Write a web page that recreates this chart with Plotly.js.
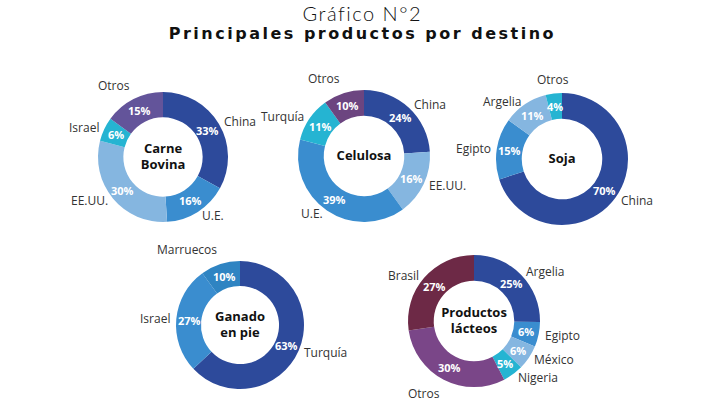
<!DOCTYPE html>
<html>
<head>
<meta charset="utf-8">
<script src="https://cdn.plot.ly/plotly-3.0.1.min.js"></script>
<style>
  html, body { margin: 0; padding: 0; background: #fff; }
  #myDiv { width: 704px; height: 418px; }
  g.annotation[data-index="0"] text { letter-spacing: 1.5px; }
  g.annotation[data-index="1"] text { letter-spacing: 2.5px; }
</style>
</head>
<body>
<div id="myDiv"></div>
<script>
  // data (% por destino)
  var carne_labels = ['China', 'U.E.', 'EE.UU.', 'Israel', 'Otros'];
  var carne_values = [33, 16, 30, 6, 15];

  var celulosa_labels = ['China', 'EE.UU.', 'U.E.', 'Turquía', 'Otros'];
  var celulosa_values = [24, 16, 39, 11, 10];

  var soja_labels = ['China', 'Egipto', 'Argelia', 'Otros'];
  var soja_values = [70, 15, 11, 4];

  var ganado_labels = ['Turquía', 'Israel', 'Marruecos'];
  var ganado_values = [63, 27, 10];

  var lacteos_labels = ['Argelia', 'Egipto', 'México', 'Nigeria', 'Otros', 'Brasil'];
  var lacteos_values = [25, 6, 6, 5, 30, 27];

  var navy = '#2d4a9b', mid = '#3a8dcf', light = '#85b6e0', cyan = '#25b4d2';

  var W = 704, H = 418;
  var HOLE = 0.61;

  var annotations = [
    { text: 'Gráfico N°2', x: 0.515, y: 1 - 13 / H, xref: 'paper', yref: 'paper',
      showarrow: false, xanchor: 'center', yanchor: 'middle',
      font: { family: 'Lato', weight: 300, size: 20, color: '#111' } },
    { text: '<b>Principales productos por destino</b>', x: 0.515, y: 1 - 33 / H, xref: 'paper', yref: 'paper',
      showarrow: false, xanchor: 'center', yanchor: 'middle',
      font: { family: 'DejaVu Sans', size: 16, color: '#111' } }
  ];

  // square domain from a centre and radius in pixels
  function dom(cx, cy, r) {
    return {
      x: [(cx - r) / W, (cx + r) / W],
      y: [1 - (cy + r) / H, 1 - (cy - r) / H]
    };
  }

  // ring drawn by plotly, % and country names placed at each slice's mid angle
  function donut(labels, values, colors, title, cx, cy, r) {
    var total = values.reduce(function(s, v) { return s + v; }, 0);
    var cum = 0;
    for (var i = 0; i < values.length; i++) {
      var a = (cum + values[i] / 2) / total * 2 * Math.PI;
      cum += values[i];
      var s = Math.sin(a), c = Math.cos(a);
      var rm = r * 0.8;
      annotations.push({
        text: '<b>' + values[i] + '%</b>',
        x: (cx + rm * s) / W, y: 1 - (cy - rm * c) / H,
        xref: 'paper', yref: 'paper', showarrow: false,
        xanchor: 'center', yanchor: 'middle',
        font: { family: 'Open Sans', size: 11, color: '#fff' }
      });
      var ro = r + 4;
      annotations.push({
        text: labels[i],
        x: (cx + ro * s) / W, y: 1 - (cy - ro * c) / H,
        xref: 'paper', yref: 'paper', showarrow: false,
        xanchor: Math.abs(s) < 0.25 ? 'center' : (s > 0 ? 'left' : 'right'),
        yanchor: Math.abs(c) < 0.85 ? 'middle' : (c > 0 ? 'bottom' : 'top'),
        font: { family: 'Open Sans', size: 12, color: '#333' }
      });
    }
    return {
      type: 'pie',
      labels: labels,
      values: values,
      textinfo: 'none',
      hole: HOLE,
      sort: false,
      direction: 'clockwise',
      rotation: 0,
      marker: { colors: colors, line: { width: 0 } },
      domain: dom(cx, cy, r),
      title: { text: title, position: 'middle center',
               font: { family: 'Open Sans', size: 13, color: '#111', weight: 'bold' } },
      hoverinfo: 'label+percent'
    };
  }

  var data = [
    donut(carne_labels, carne_values, [navy, mid, light, cyan, '#63549a'], 'Carne<br>Bovina', 163, 157, 65),
    donut(celulosa_labels, celulosa_values, [navy, light, mid, cyan, '#6c4580'], 'Celulosa', 364, 156, 66),
    donut(soja_labels, soja_values, [navy, mid, light, cyan], 'Soja', 562, 159, 66),
    donut(ganado_labels, ganado_values, [navy, mid, '#2f84c2'], 'Ganado<br>en pie', 240, 325, 64),
    donut(lacteos_labels, lacteos_values, [navy, mid, light, cyan, '#7a4688', '#6d2946'], 'Productos<br>lácteos', 474, 321, 66)
  ];

  var layout = {
    width: W,
    height: H,
    margin: { l: 0, r: 0, t: 0, b: 0 },
    paper_bgcolor: '#fff',
    showlegend: false,
    annotations: annotations
  };

  Plotly.newPlot('myDiv', data, layout, { displayModeBar: false, staticPlot: true });
</script>
</body>
</html>
